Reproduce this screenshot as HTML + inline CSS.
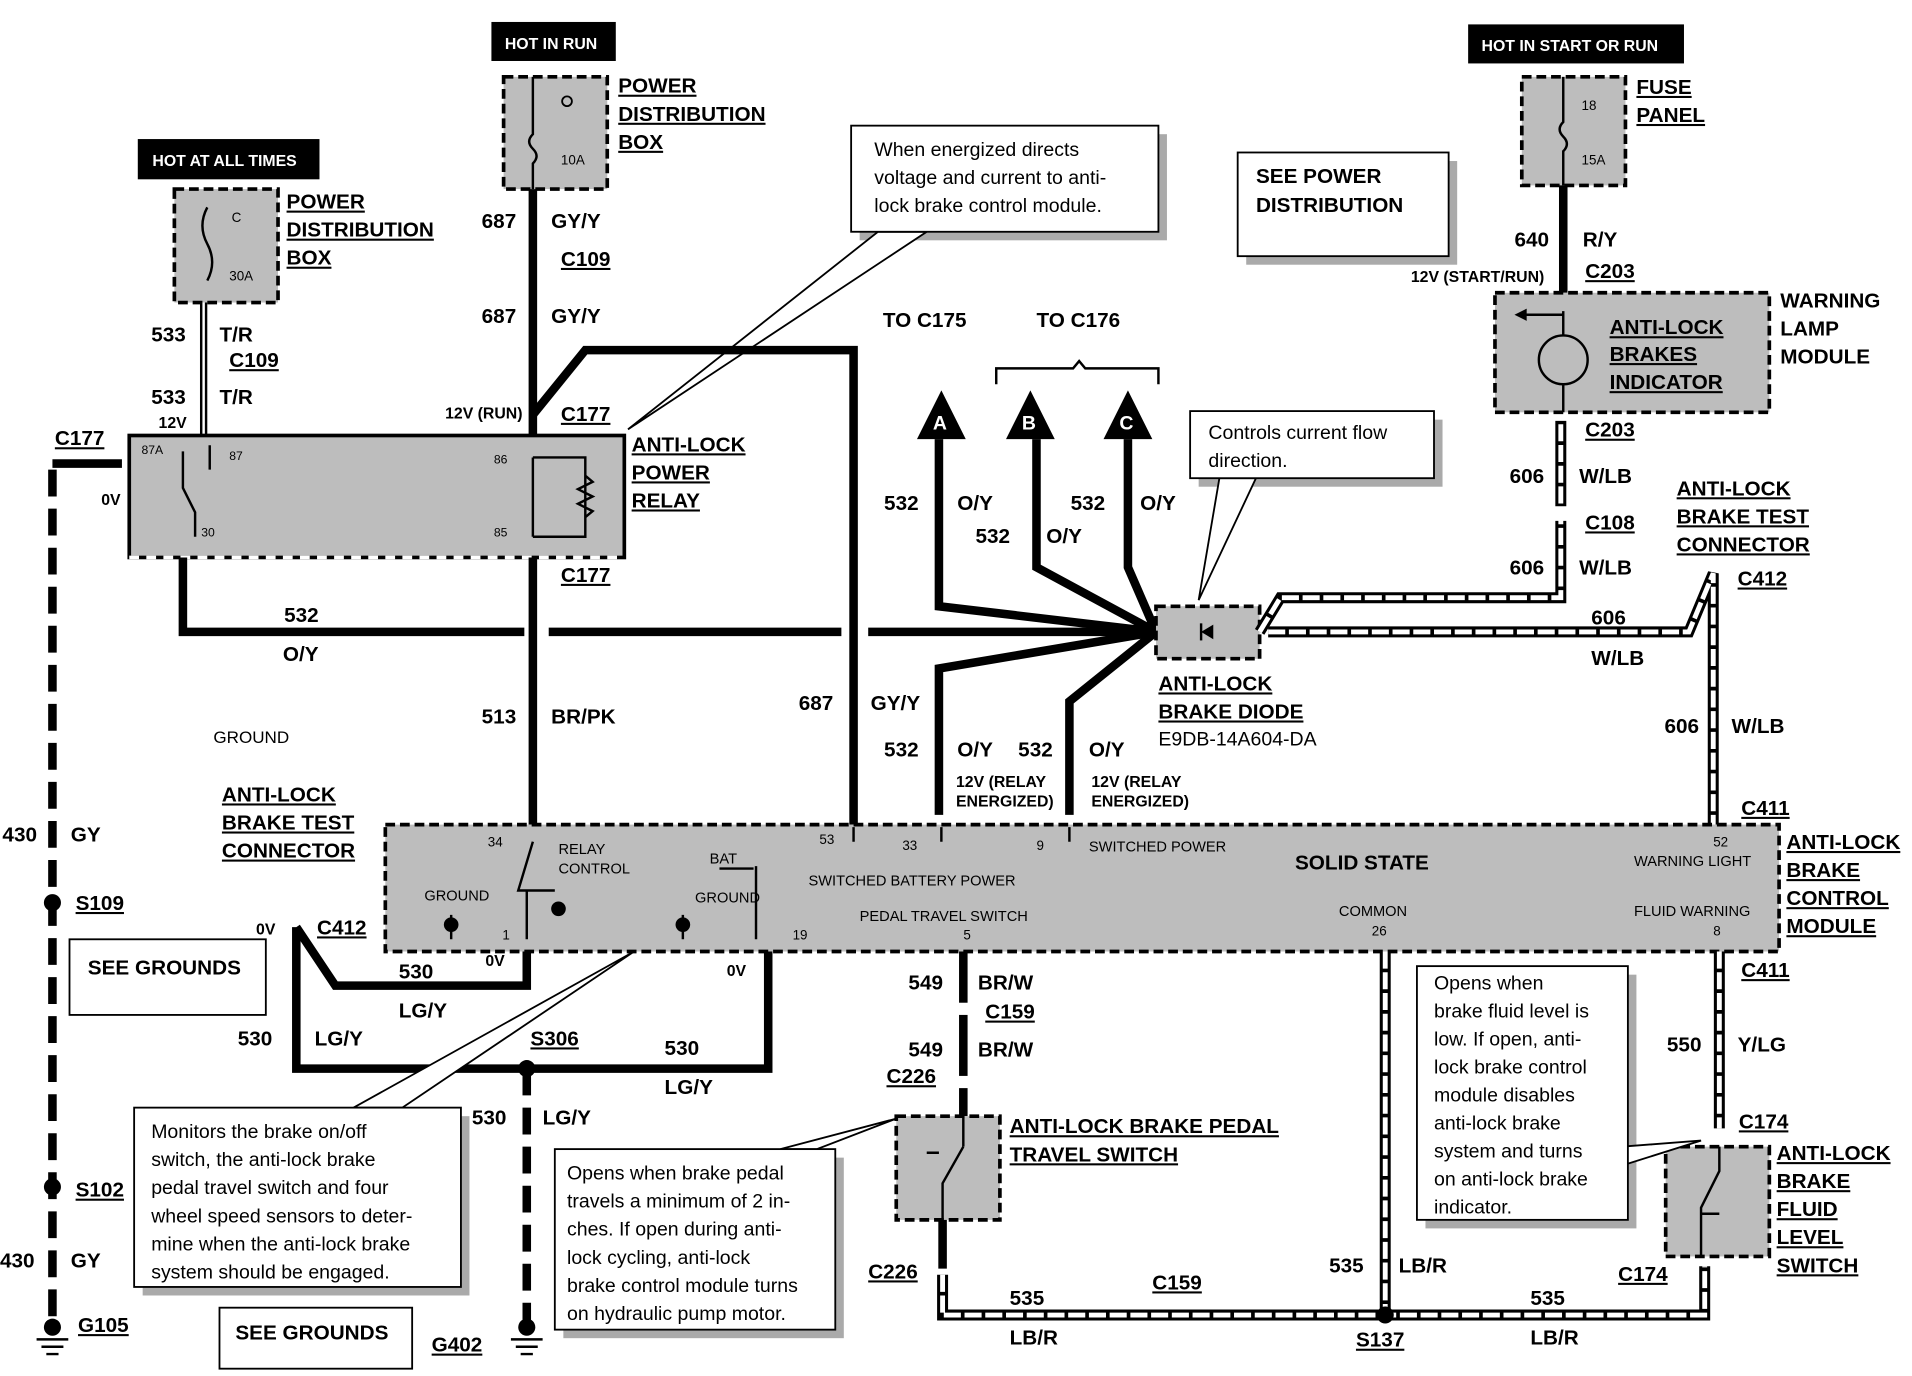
<!DOCTYPE html>
<html><head><meta charset="utf-8"><style>
html,body{margin:0;padding:0;background:#fff;}
svg{display:block;}
text{font-family:"Liberation Sans",Arial,sans-serif;font-weight:bold;font-size:17px;fill:#000;}
.u{text-decoration:underline;}
.s{font-size:13px;}
.n{font-weight:normal;font-size:16px;}
.w{fill:#fff;font-size:13px;}
.t{stroke:#000;stroke-width:7;fill:none;}
.h1{stroke:#000;stroke-width:9;fill:none;}
.h2{stroke:#fff;stroke-width:4;fill:none;stroke-dasharray:14 3;}
.box{fill:#bdbdbd;stroke:#000;stroke-width:3;stroke-dasharray:8 4;}
.cb{fill:#fff;stroke:#000;stroke-width:1.5;}
.sh{fill:#aaa;}
</style></head><body>
<svg width="1912" height="1376" viewBox="0 0 1568 1128" preserveAspectRatio="none" xmlns="http://www.w3.org/2000/svg">
<rect width="1568" height="1128" fill="#fff"/>

<!-- black headers -->
<rect x="403" y="18" width="102" height="32" fill="#000"/><text x="414" y="40" class="w">HOT IN RUN</text>
<rect x="113" y="114" width="149" height="33" fill="#000"/><text x="125" y="136" class="w">HOT AT ALL TIMES</text>
<rect x="1204" y="20" width="177" height="32" fill="#000"/><text x="1215" y="42" class="w">HOT IN START OR RUN</text>

<!-- fuse boxes -->
<rect x="143" y="155" width="85" height="93" class="box"/>
<path d="M170 170 q-8 15 0 30 q8 15 0 30" stroke="#000" stroke-width="2" fill="none"/>
<text x="190" y="182" class="s n" style="font-size:11px">C</text><text x="188" y="230" class="s n" style="font-size:11px">30A</text>
<text x="235" y="171" class="u">POWER</text><text x="235" y="194" class="u">DISTRIBUTION</text><text x="235" y="217" class="u">BOX</text>

<rect x="413" y="63" width="85" height="92" class="box"/>
<circle cx="465" cy="83" r="4" fill="none" stroke="#000" stroke-width="1.5"/>
<path d="M437 63 V110 q-6 6 0 12 q6 6 0 12 V155" stroke="#000" stroke-width="2" fill="none"/>
<text x="460" y="135" style="font-size:11px;font-weight:normal">10A</text>
<text x="507" y="76" class="u">POWER</text><text x="507" y="99" class="u">DISTRIBUTION</text><text x="507" y="122" class="u">BOX</text>

<rect x="1248" y="63" width="85" height="89" class="box"/>
<path d="M1282 63 V100 q-6 6 0 12 q6 6 0 12 V152" stroke="#000" stroke-width="2" fill="none"/>
<text x="1297" y="90" style="font-size:11px;font-weight:normal">18</text><text x="1297" y="135" style="font-size:11px;font-weight:normal">15A</text>
<text x="1342" y="77" class="u">FUSE</text><text x="1342" y="100" class="u">PANEL</text>

<!-- SEE POWER DISTRIBUTION -->
<rect x="1022" y="132" width="173" height="85" class="sh"/>
<rect x="1015" y="125" width="173" height="85" class="cb"/>
<text x="1030" y="150">SEE POWER</text><text x="1030" y="174">DISTRIBUTION</text>

<!-- callout 1 -->
<rect x="705" y="110" width="252" height="87" class="sh"/>
<polygon points="720,190 760,190 515,352" fill="#fff" stroke="#000" stroke-width="1.5"/>
<rect x="698" y="103" width="252" height="87" class="cb"/>
<text x="717" y="128" class="n">When energized directs</text>
<text x="717" y="151" class="n">voltage and current to anti-</text>
<text x="717" y="174" class="n">lock brake control module.</text>

<!-- wires top -->
<path d="M437 155 V357" class="t"/>
<path d="M167 248 V357" stroke="#000" stroke-width="6" fill="none"/>
<path d="M167 248 V357" stroke="#fff" stroke-width="2" fill="none"/>
<path d="M437 340 L480 287 H700 V676" class="t"/>
<path d="M1282 152 V240" class="t"/>
<text x="395" y="187">687</text><text x="452" y="187">GY/Y</text><text x="460" y="218" class="u">C109</text>
<text x="395" y="265">687</text><text x="452" y="265">GY/Y</text>
<text x="124" y="280">533</text><text x="180" y="280">T/R</text><text x="188" y="301" class="u">C109</text>
<text x="124" y="331">533</text><text x="180" y="331">T/R</text>
<text x="130" y="351" class="s">12V</text>
<text x="365" y="343" class="s">12V (RUN)</text><text x="460" y="345" class="u">C177</text>
<text x="1242" y="202">640</text><text x="1298" y="202">R/Y</text>
<text x="1157" y="231" class="s">12V (START/RUN)</text><text x="1300" y="228" class="u">C203</text>
<text x="724" y="268">TO C175</text><text x="850" y="268">TO C176</text>
<path d="M817 315 V302 H880 L885 296 L890 302 H950 V315" stroke="#000" stroke-width="2" fill="none"/>

<!-- warning lamp module -->
<rect x="1226" y="240" width="225" height="98" class="box"/>
<circle cx="1282" cy="295" r="20" fill="none" stroke="#000" stroke-width="2"/>
<path d="M1282 255 V275 M1282 315 V338 M1282 258 H1245" stroke="#000" stroke-width="2"/>
<polygon points="1242,258 1252,253 1252,263" fill="#000"/>
<text x="1320" y="274" class="u">ANTI-LOCK</text><text x="1320" y="296" class="u">BRAKES</text><text x="1320" y="319" class="u">INDICATOR</text>
<text x="1460" y="252">WARNING</text><text x="1460" y="275">LAMP</text><text x="1460" y="298">MODULE</text>
<text x="1300" y="358" class="u">C203</text>

<!-- relay -->
<rect x="106" y="357" width="406" height="100" fill="#bdbdbd" stroke="#000" stroke-width="3"/>
<path d="M106 457 H512" stroke="#fff" stroke-width="3" stroke-dasharray="8 6"/>
<path d="M150 370 V400 L160 420 V440 M172 365 V385 M437 375 V440 M437 375 H480 V440 H437" stroke="#000" stroke-width="2" fill="none"/>
<path d="M480 390 l6 5 -12 6 12 6 -12 6 12 6 -6 5" stroke="#000" stroke-width="2" fill="none"/>
<text x="116" y="372" style="font-size:10px;font-weight:normal">87A</text><text x="188" y="377" style="font-size:10px;font-weight:normal">87</text>
<text x="165" y="440" style="font-size:10px;font-weight:normal">30</text><text x="405" y="380" style="font-size:10px;font-weight:normal">86</text><text x="405" y="440" style="font-size:10px;font-weight:normal">85</text>
<text x="518" y="370" class="u">ANTI-LOCK</text><text x="518" y="393" class="u">POWER</text><text x="518" y="416" class="u">RELAY</text>
<text x="45" y="365" class="u">C177</text><text x="83" y="414" class="s">0V</text>
<path d="M43 380 H100" class="t"/>
<path d="M43 385 V1080" stroke="#000" stroke-width="7" stroke-dasharray="22 10" fill="none"/>

<!-- relay outputs -->
<path d="M150 457 V518 H430 M450 518 H690 M712 518 H948" class="t"/>
<path d="M437 457 V676" class="t"/>
<text x="460" y="477" class="u">C177</text>
<text x="233" y="510">532</text><text x="232" y="542">O/Y</text>
<text x="395" y="593">513</text><text x="452" y="593">BR/PK</text>
<text x="655" y="582">687</text><text x="714" y="582">GY/Y</text>
<text x="175" y="609" class="n" style="font-size:14px">GROUND</text>

<!-- O/Y to A B C and down -->
<path d="M948 518 L770 497 V360 M948 518 L850 465 V360 M948 518 L925 465 V360 M948 518 L770 548 V668 M948 518 L877 575 V668" class="t"/>
<polygon points="772,320 752,360 792,360" fill="#000"/><text x="765" y="352" class="w" style="font-size:16px">A</text>
<polygon points="845,320 825,360 865,360" fill="#000"/><text x="838" y="352" class="w" style="font-size:16px">B</text>
<polygon points="925,320 905,360 945,360" fill="#000"/><text x="918" y="352" class="w" style="font-size:16px">C</text>
<text x="725" y="418">532</text><text x="785" y="418">O/Y</text>
<text x="800" y="445">532</text><text x="858" y="445">O/Y</text>
<text x="878" y="418">532</text><text x="935" y="418">O/Y</text>
<text x="725" y="620">532</text><text x="785" y="620">O/Y</text><text x="835" y="620">532</text><text x="893" y="620">O/Y</text>
<text x="784" y="645" class="s">12V (RELAY</text><text x="784" y="661" class="s">ENERGIZED)</text>
<text x="895" y="645" class="s">12V (RELAY</text><text x="895" y="661" class="s">ENERGIZED)</text>

<!-- diode -->
<rect x="948" y="497" width="85" height="43" class="box"/>
<polygon points="985,518 995,512 995,524" fill="#000"/><path d="M985 511 V525" stroke="#000" stroke-width="2"/>
<text x="950" y="566" class="u">ANTI-LOCK</text><text x="950" y="589" class="u">BRAKE DIODE</text><text x="950" y="611" class="n">E9DB-14A604-DA</text>
<rect x="983" y="344" width="200" height="55" class="sh"/>
<polygon points="1000,392 1030,392 983,492" fill="#fff" stroke="#000" stroke-width="1.5"/>
<rect x="976" y="337" width="200" height="55" class="cb"/>
<text x="991" y="360" class="n">Controls current flow</text><text x="991" y="383" class="n">direction.</text>

<!-- W/LB hatched -->
<g>
<path d="M1033 518 L1050 490 H1280 V345 M1040 518 H1385 L1405 470 V676" class="h1"/>
<path d="M1033 518 L1050 490 H1280 V345 M1040 518 H1385 L1405 470 V676" class="h2"/>
</g>
<rect x="1272" y="415" width="16" height="12" fill="#fff"/>
<text x="1238" y="396">606</text><text x="1295" y="396">W/LB</text><text x="1300" y="434" class="u">C108</text>
<text x="1238" y="471">606</text><text x="1295" y="471">W/LB</text>
<text x="1305" y="512">606</text><text x="1305" y="545">W/LB</text>
<text x="1365" y="601">606</text><text x="1420" y="601">W/LB</text>
<text x="1375" y="406" class="u">ANTI-LOCK</text><text x="1375" y="429" class="u">BRAKE TEST</text><text x="1375" y="452" class="u">CONNECTOR</text>
<text x="1425" y="480" class="u">C412</text><text x="1428" y="668" class="u">C411</text>

<!-- module -->
<rect x="316" y="676" width="1143" height="104" class="box"/>
<text x="1062" y="713">SOLID STATE</text>
<text x="1465" y="696" class="u">ANTI-LOCK</text><text x="1465" y="719" class="u">BRAKE</text><text x="1465" y="742" class="u">CONTROL</text><text x="1465" y="765" class="u">MODULE</text>
<g style="font-size:12px;font-weight:normal">
<text x="400" y="694" class="n" style="font-size:11px">34</text><text x="458" y="700" class="n" style="font-size:12px">RELAY</text><text x="458" y="716" class="n" style="font-size:12px">CONTROL</text>
<text x="348" y="738" class="n" style="font-size:12px">GROUND</text><text x="570" y="740" class="n" style="font-size:12px">GROUND</text>
<text x="582" y="708" class="n" style="font-size:12px">BAT</text><text x="672" y="692" class="n" style="font-size:11px">53</text>
<text x="663" y="726" class="n" style="font-size:12px">SWITCHED  BATTERY POWER</text>
<text x="740" y="697" class="n" style="font-size:11px">33</text><text x="850" y="697" class="n" style="font-size:11px">9</text>
<text x="893" y="698" class="n" style="font-size:12px">SWITCHED  POWER</text>
<text x="705" y="755" class="n" style="font-size:12px">PEDAL TRAVEL SWITCH</text><text x="790" y="770" class="n" style="font-size:11px">5</text>
<text x="1098" y="751" class="n" style="font-size:12px">COMMON</text><text x="1125" y="767" class="n" style="font-size:11px">26</text>
<text x="1340" y="710" class="n" style="font-size:12px">WARNING LIGHT</text><text x="1405" y="694" class="n" style="font-size:11px">52</text>
<text x="1340" y="751" class="n" style="font-size:12px">FLUID WARNING</text><text x="1405" y="767" class="n" style="font-size:11px">8</text>
<text x="412" y="770" class="n" style="font-size:11px">1</text><text x="650" y="770" class="n" style="font-size:11px">19</text>
</g>
<path d="M437 690 L425 730 H455 M432 730 V770 M620 710 V770 M618 712 H590 M700 678 V690 M772 678 V690 M877 678 V690 M370 750 V770 M560 750 V770" stroke="#000" stroke-width="2" fill="none"/>
<circle cx="370" cy="758" r="6" fill="#000"/><circle cx="560" cy="758" r="6" fill="#000"/><circle cx="458" cy="745" r="6" fill="#000"/>

<!-- below module left -->
<path d="M243 760 L275 808 H432 V780 M243 760 V876 H630 V780" class="t"/>
<path d="M432 876 V1085" stroke="#000" stroke-width="7" stroke-dasharray="22 10" fill="none"/>
<circle cx="432" cy="876" r="7" fill="#000"/>
<circle cx="43" cy="740" r="7" fill="#000"/><circle cx="43" cy="973" r="7" fill="#000"/><circle cx="43" cy="1088" r="7" fill="#000"/>
<circle cx="432" cy="1088" r="7" fill="#000"/>
<path d="M30 1098 H56 M34 1104 H52 M38 1110 H48 M419 1098 H445 M423 1104 H441 M427 1110 H437" stroke="#000" stroke-width="2"/>
<text x="2" y="690">430</text><text x="58" y="690">GY</text><text x="62" y="746" class="u">S109</text>
<text x="62" y="981" class="u">S102</text><text x="0" y="1039">430</text><text x="58" y="1039">GY</text><text x="64" y="1092" class="u">G105</text>
<text x="182" y="657" class="u">ANTI-LOCK</text><text x="182" y="680" class="u">BRAKE TEST</text><text x="182" y="703" class="u">CONNECTOR</text>
<text x="210" y="766" class="s">0V</text><text x="260" y="766" class="u">C412</text>
<text x="398" y="792" class="s">0V</text><text x="596" y="800" class="s">0V</text>
<text x="327" y="802">530</text><text x="327" y="834">LG/Y</text>
<text x="195" y="857">530</text><text x="258" y="857">LG/Y</text>
<text x="435" y="857" class="u">S306</text>
<text x="545" y="865">530</text><text x="545" y="897">LG/Y</text>
<text x="387" y="922">530</text><text x="445" y="922">LG/Y</text>
<text x="354" y="1108" class="u">G402</text>
<rect x="57" y="770" width="161" height="62" class="cb"/><text x="72" y="799">SEE GROUNDS</text>
<rect x="180" y="1072" width="158" height="50" class="cb"/><text x="193" y="1098">SEE GROUNDS</text>

<!-- monitors callout -->
<rect x="117" y="915" width="268" height="147" class="sh"/>
<polygon points="290,908 330,908 520,780" fill="#fff" stroke="#000" stroke-width="1.5"/>
<rect x="110" y="908" width="268" height="147" class="cb"/>
<text x="124" y="933" class="n">Monitors the brake on/off</text>
<text x="124" y="956" class="n">switch, the anti-lock brake</text>
<text x="124" y="979" class="n">pedal travel switch and four</text>
<text x="124" y="1002" class="n">wheel speed sensors to deter-</text>
<text x="124" y="1025" class="n">mine when the anti-lock brake</text>
<text x="124" y="1048" class="n">system should be engaged.</text>

<!-- pedal switch -->
<path d="M790 780 V915" class="t"/>
<rect x="782" y="822" width="16" height="10" fill="#fff"/><rect x="782" y="882" width="16" height="10" fill="#fff"/>
<text x="745" y="811">549</text><text x="802" y="811">BR/W</text><text x="808" y="835" class="u">C159</text>
<text x="745" y="866">549</text><text x="802" y="866">BR/W</text><text x="727" y="888" class="u">C226</text>
<rect x="735" y="915" width="85" height="85" class="box"/>
<path d="M790 915 V940 M773 1000 V970 L790 940 M760 945 h10" stroke="#000" stroke-width="2" fill="none"/>
<text x="828" y="929" class="u">ANTI-LOCK BRAKE PEDAL</text><text x="828" y="952" class="u">TRAVEL SWITCH</text>
<path d="M773 1000 V1040" class="t"/>
<text x="712" y="1048" class="u">C226</text>

<!-- pedal callout -->
<rect x="462" y="949" width="230" height="148" class="sh"/>
<polygon points="640,942 670,942 735,917" fill="#fff" stroke="#000" stroke-width="1.5"/>
<rect x="455" y="942" width="230" height="148" class="cb"/>
<text x="465" y="967" class="n">Opens when brake pedal</text>
<text x="465" y="990" class="n">travels a minimum of 2 in-</text>
<text x="465" y="1013" class="n">ches. If open during anti-</text>
<text x="465" y="1036" class="n">lock cycling, anti-lock</text>
<text x="465" y="1059" class="n">brake control module turns</text>
<text x="465" y="1082" class="n">on hydraulic pump motor.</text>

<!-- LB/R hatched -->
<path d="M773 1045 V1078 H1398 V1038 M1136 780 V1078 M1410 780 V925" class="h1"/>
<path d="M773 1045 V1078 H1398 V1038 M1136 780 V1078 M1410 780 V925" class="h2"/>
<circle cx="1136" cy="1078" r="7" fill="#000"/>
<text x="828" y="1070">535</text><text x="828" y="1102">LB/R</text><text x="945" y="1057" class="u">C159</text>
<text x="1090" y="1043">535</text><text x="1147" y="1043">LB/R</text><text x="1112" y="1104" class="u">S137</text>
<text x="1255" y="1070">535</text><text x="1255" y="1102">LB/R</text><text x="1327" y="1050" class="u">C174</text>
<text x="1428" y="801" class="u">C411</text>
<text x="1367" y="862">550</text><text x="1425" y="862">Y/LG</text>
<text x="1426" y="925" class="u">C174</text>

<!-- fluid switch -->
<rect x="1366" y="940" width="85" height="90" class="box"/>
<path d="M1410 940 V960 L1395 990 V1030 M1395 995 h15" stroke="#000" stroke-width="2" fill="none"/>
<text x="1457" y="951" class="u">ANTI-LOCK</text><text x="1457" y="974" class="u">BRAKE</text><text x="1457" y="997" class="u">FLUID</text><text x="1457" y="1020" class="u">LEVEL</text><text x="1457" y="1043" class="u">SWITCH</text>

<!-- fluid callout -->
<rect x="1169" y="799" width="173" height="208" class="sh"/>
<polygon points="1300,965 1330,940 1395,935" fill="#fff" stroke="#000" stroke-width="1.5"/>
<rect x="1162" y="792" width="173" height="208" class="cb"/>
<text x="1176" y="811" class="n">Opens when</text>
<text x="1176" y="834" class="n">brake fluid level is</text>
<text x="1176" y="857" class="n">low.  If open, anti-</text>
<text x="1176" y="880" class="n">lock brake control</text>
<text x="1176" y="903" class="n">module disables</text>
<text x="1176" y="926" class="n">anti-lock brake</text>
<text x="1176" y="949" class="n">system and turns</text>
<text x="1176" y="972" class="n">on anti-lock brake</text>
<text x="1176" y="995" class="n">indicator.</text>
</svg>
</body></html>
